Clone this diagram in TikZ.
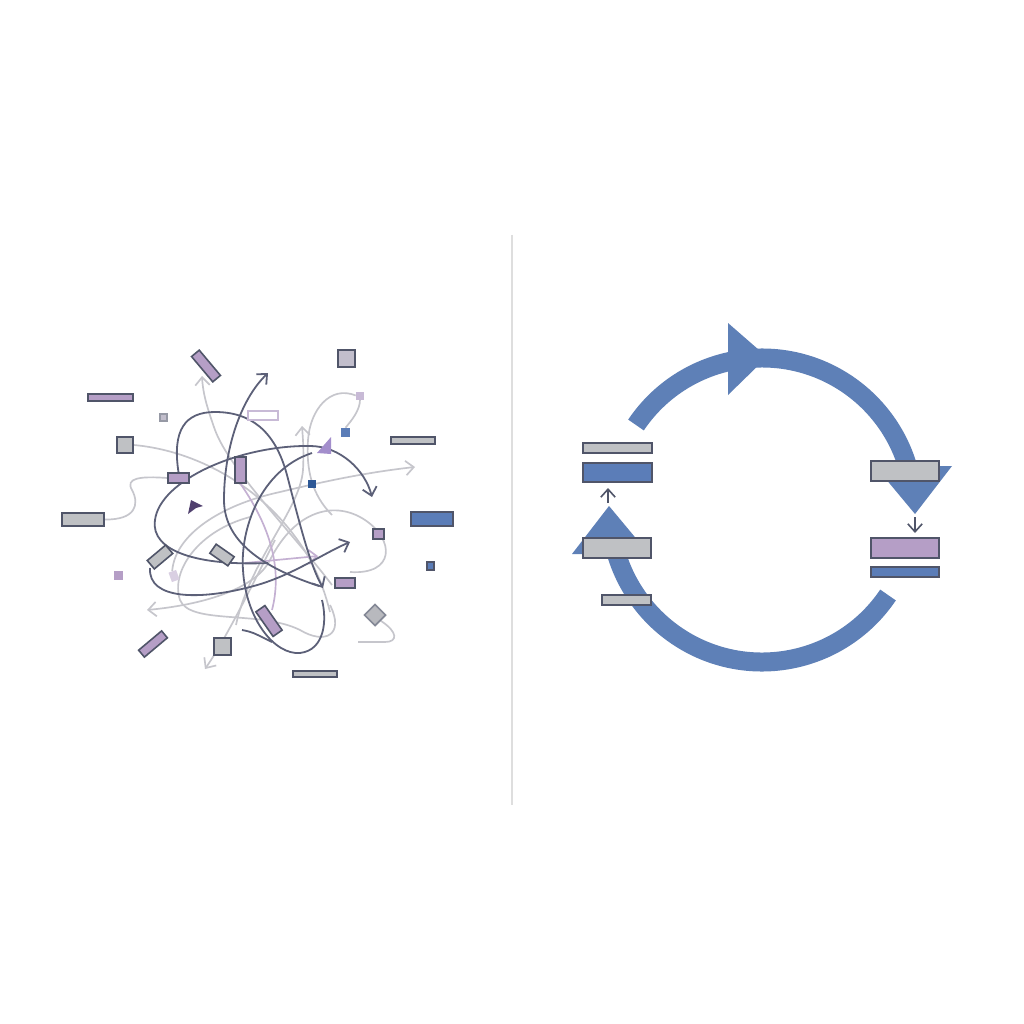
\documentclass[tikz,border=0pt]{standalone}
\usepackage{tikz}
\usetikzlibrary{arrows.meta,backgrounds}
\newcommand{\pxl}{0.25mm}
\definecolor{cyc}{RGB}{94,128,183}
\definecolor{bluefill}{RGB}{91,125,184}
\definecolor{darkblue}{RGB}{45,88,150}
\definecolor{grayfill}{RGB}{191,193,196}
\definecolor{graypurp}{RGB}{194,190,204}
\definecolor{diamgray}{RGB}{184,185,190}
\definecolor{purpfill}{RGB}{181,158,198}
\definecolor{lilac}{RGB}{200,186,214}
\definecolor{dpurp}{RGB}{80,64,110}
\definecolor{edge}{RGB}{80,85,105}
\definecolor{darkline}{RGB}{92,96,120}
\definecolor{lightline}{RGB}{198,198,204}
\definecolor{lilacline}{RGB}{196,176,210}

\begin{document}
\begin{tikzpicture}[x=0.25mm,y=-0.25mm]
\useasboundingbox (0,0) rectangle (1024,1024);
\tikzstyle{box}=[rectangle, draw=edge, line width=0.4mm, inner sep=0pt]
\tikzstyle{spot}=[rectangle, inner sep=0pt]
\tikzstyle{dark}=[draw=darkline, line width=0.45mm]
\tikzstyle{pale}=[draw=lightline, line width=0.42mm]
\tikzstyle{lil}=[draw=lilacline, line width=0.42mm]
\tikzstyle{ring}=[draw=cyc, line width=19*\pxl]
\tikzstyle{head}=[-{Straight Barb[length=2mm,width=3.6mm]}]

% left: scattered parts
\node[box, fill=purpfill, minimum width=33*\pxl, minimum height=10*\pxl, rotate=-50] (p1) at (206,366) {};
\node[box, fill=purpfill, minimum width=45*\pxl, minimum height=7*\pxl] (p2) at (110.5,397.5) {};
\node[box, fill=graypurp, draw=edge!60, minimum width=7*\pxl, minimum height=7*\pxl] (g1) at (163.5,417.5) {};
\node[box, fill=grayfill, minimum width=16*\pxl, minimum height=16*\pxl] (g2) at (125,445) {};
\node[box, fill=purpfill, minimum width=21*\pxl, minimum height=10*\pxl] (p3) at (178.5,478) {};
\node[box, fill=grayfill, minimum width=42*\pxl, minimum height=13*\pxl] (g3) at (83,519.5) {};
\node[box, fill=white, draw=lilac, minimum width=30*\pxl, minimum height=9*\pxl] (w1) at (263,415.5) {};
\node[box, fill=purpfill, minimum width=11*\pxl, minimum height=26*\pxl] (p4) at (240.5,470) {};
\node[box, fill=graypurp, minimum width=17*\pxl, minimum height=17*\pxl] (g4) at (346.5,358.5) {};
\node[spot, fill=lilac, minimum width=8*\pxl, minimum height=8*\pxl] (q1) at (360,395.5) {};
\node[spot, fill=bluefill, minimum width=9*\pxl, minimum height=9*\pxl] (s1) at (345.5,432.5) {};
\node[box, fill=grayfill, minimum width=44*\pxl, minimum height=7*\pxl] (g5) at (413,440.5) {};
\node[spot, fill=darkblue, minimum width=8*\pxl, minimum height=8*\pxl] (s2) at (312,483.5) {};
\node[box, fill=bluefill, minimum width=42*\pxl, minimum height=14*\pxl] (b1) at (432,519) {};
\node[box, fill=grayfill, minimum width=24*\pxl, minimum height=11*\pxl, rotate=40] (g6) at (160,557) {};
\node[spot, fill=purpfill, minimum width=9*\pxl, minimum height=9*\pxl] (q2) at (118.5,575.5) {};
\node[spot, fill=lilac!70, minimum width=8*\pxl, minimum height=10*\pxl, rotate=20] (q3) at (174,576) {};
\node[box, fill=grayfill, minimum width=22*\pxl, minimum height=11*\pxl, rotate=-35] (g7) at (222,555) {};
\node[box, fill=purpfill, minimum width=30*\pxl, minimum height=9*\pxl, rotate=40] (p5) at (153,644) {};
\node[box, fill=grayfill, minimum width=17*\pxl, minimum height=17*\pxl] (g8) at (222.5,646.5) {};
\node[box, fill=purpfill, minimum width=11*\pxl, minimum height=10*\pxl] (p6) at (378.5,534) {};
\node[box, fill=bluefill, minimum width=7*\pxl, minimum height=8*\pxl] (s3) at (430.5,566) {};
\node[box, fill=purpfill, minimum width=20*\pxl, minimum height=10*\pxl] (p7) at (345,583) {};
\node[box, fill=diamgray, draw=edge!70, minimum width=15*\pxl, minimum height=15*\pxl, rotate=45] (d1) at (375,615) {};
\node[box, fill=purpfill, minimum width=30*\pxl, minimum height=11*\pxl, rotate=-55] (p8) at (269,621) {};
\node[box, fill=grayfill, minimum width=44*\pxl, minimum height=6*\pxl] (g9) at (315,674) {};
\fill[purpfill!90!blue] (317,453) -- (331,437) -- (331,454) -- cycle;
\fill[dpurp] (188,514) -- (191,500) -- (203,506) -- (196,508) -- cycle;

\coordinate (e1) at (323,588);
\coordinate (e1b) at (319,586);
\coordinate (e2) at (268,373);
\coordinate (e3) at (372,497);
\coordinate (e4) at (350,542);
\coordinate (e5) at (312,453);
\coordinate (e6) at (322,600);
\coordinate (y0) at (268,563);
\coordinate (z0) at (150,568);
\coordinate (h0) at (242,630);
\coordinate (h1) at (272,642);
\coordinate (f1) at (330,612);
\coordinate (f2) at (332,585);
\coordinate (f3) at (202,376);
\coordinate (f4) at (415,467);
\coordinate (f5) at (350,572);
\coordinate (f6) at (147,610);
\coordinate (f7) at (250,517);
\coordinate (f8) at (330,605);
\coordinate (f9) at (236,625);
\coordinate (f10) at (302,426);
\coordinate (f11) at (332,515);
\coordinate (f12) at (358,642);
\coordinate (f13) at (205,669);
\coordinate (f14) at (275,540);
\coordinate (k0) at (245,563);
\coordinate (k1) at (318,556);
\coordinate (k3) at (272,610);

\begin{scope}[on background layer]
\fill[white] (0,0) rectangle (1024,1024);
% pale tangle
\draw[pale] (g2.east) .. controls (190,450) and (250,480) .. (290,530) .. controls (310,555) and (322,580) .. (f1);
\draw[pale, head] (f2) .. controls (290,530) and (230,470) .. (215,430) .. controls (208,410) and (203,395) .. (f3);
\draw[pale] (g3.east) .. controls (135,520) and (140,505) .. (132,490) .. controls (125,478) and (140,476) .. (p3.west);
\draw[pale, head] (q3.north) .. controls (175,535) and (220,505) .. (280,492) .. controls (330,480) and (370,472) .. (f4);
\draw[pale, head] (f5) .. controls (395,575) and (395,540) .. (365,520) .. controls (335,500) and (295,510) .. (270,560) .. controls (255,590) and (200,605) .. (f6);
\draw[pale] (f7) .. controls (200,530) and (170,570) .. (180,600) .. controls (190,625) and (260,610) .. (300,630) .. controls (325,645) and (345,635) .. (f8);
\draw[pale, head] (f9) .. controls (250,560) and (300,510) .. (303,470) .. controls (304,450) and (303,440) .. (f10);
\draw[pale] (s1.north) .. controls (352,420) and (360,410) .. (q1.south);
\draw[pale] (q1.west) .. controls (330,385) and (310,410) .. (308,440) .. controls (306,470) and (312,495) .. (f11);
\draw[pale] (d1.south) .. controls (398,632) and (398,642) .. (385,642) -- (f12);
\draw[pale, head] (f14) .. controls (250,590) and (225,640) .. (f13);
% lilac strands
\draw[lil, head] (k0) -- (k1);
\draw[lil] (p4.south) .. controls (262,515) and (285,560) .. (k3);
% dark tangle
\draw[dark, head] (p3.north) .. controls (172,430) and (185,412) .. (215,412) .. controls (250,412) and (275,430) .. (287,475) .. controls (300,525) and (310,565) .. (e1);
\draw[dark, head] (e1b) .. controls (270,570) and (224,545) .. (224,500) .. controls (224,450) and (240,400) .. (e2);
\draw[dark, head] (y0) .. controls (200,566) and (150,552) .. (155,520) .. controls (160,480) and (240,445) .. (310,446) .. controls (340,446) and (365,470) .. (e3);
\draw[dark, head] (z0) .. controls (148,600) and (200,600) .. (250,587) .. controls (290,577) and (320,555) .. (e4);
\draw[dark] (e5) .. controls (260,470) and (240,530) .. (243,570) .. controls (246,620) and (275,655) .. (300,653) .. controls (325,650) and (327,620) .. (e6);
\draw[dark] (h0) .. controls (252,632) .. (h1);
\end{scope}

% divider
\draw[draw=black!13, line width=0.4mm] (512,235) -- (512,805);

% right: cycle
\draw[ring] (762,510) ++(-146:152) arc[start angle=-146, end angle=-17, radius=152];
\draw[ring] (762,510) ++(34:152) arc[start angle=34, end angle=163, radius=152];
\fill[cyc] (728,323) -- (728,395) -- (767,357) -- cycle;
\fill[cyc] (875,466) -- (952,466) -- (915,514) -- cycle;
\fill[cyc] (649,554) -- (572,554) -- (609,506) -- cycle;

\node[box, fill=grayfill, minimum width=69*\pxl, minimum height=10*\pxl] (a1) at (617.5,448) {};
\node[box, fill=bluefill, minimum width=69*\pxl, minimum height=19*\pxl] (a2) at (617.5,472.5) {};
\node[box, fill=grayfill, minimum width=68*\pxl, minimum height=20*\pxl] (a3) at (617,548) {};
\node[box, fill=grayfill, minimum width=49*\pxl, minimum height=10*\pxl] (a4) at (626.5,600) {};
\node[box, fill=grayfill, minimum width=68*\pxl, minimum height=20*\pxl] (c1) at (905,471) {};
\node[box, fill=purpfill, minimum width=68*\pxl, minimum height=20*\pxl] (c2) at (905,548) {};
\node[box, fill=bluefill, minimum width=68*\pxl, minimum height=10*\pxl] (c3) at (905,572) {};

\coordinate (t1) at (608,503);
\coordinate (t2) at (608,488);
\coordinate (t3) at (915,517);
\coordinate (t4) at (915,533);
\draw[draw=edge, line width=0.4mm, head] (t1) -- (t2);
\draw[draw=edge, line width=0.4mm, head] (t3) -- (t4);
\end{tikzpicture}
\end{document}
